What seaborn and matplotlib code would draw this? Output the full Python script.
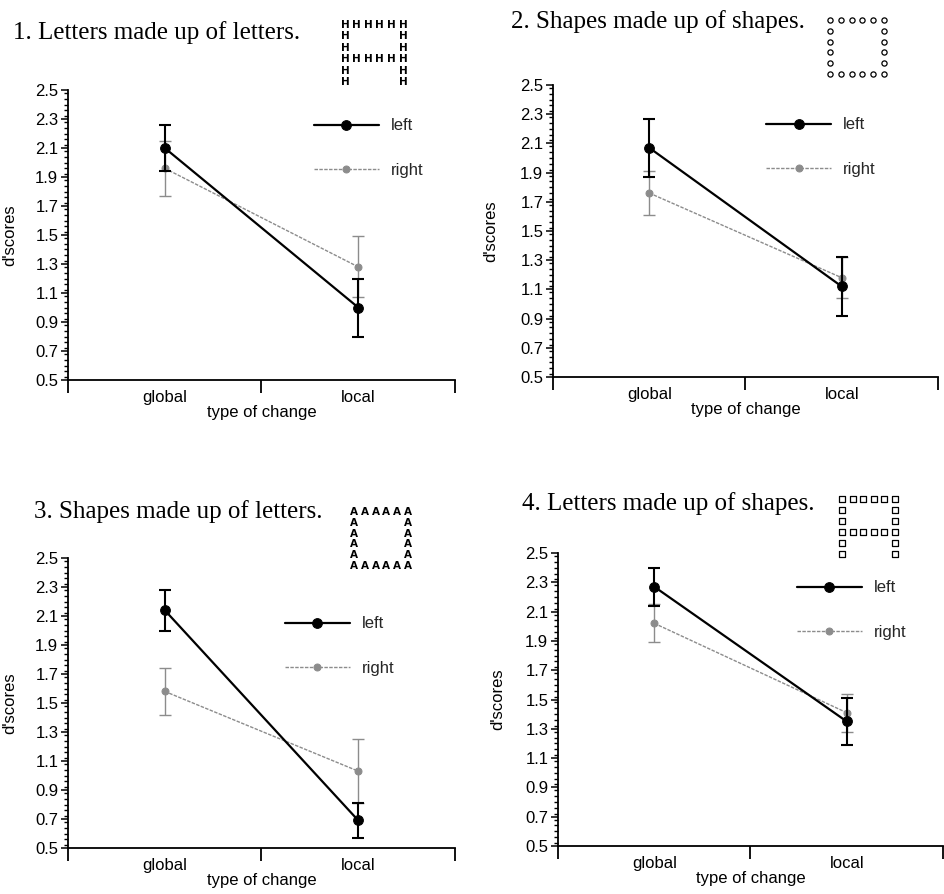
import matplotlib
matplotlib.use("Agg")
import matplotlib.pyplot as plt
import seaborn as sns
import numpy as np
from matplotlib.ticker import MultipleLocator, FixedLocator, NullFormatter

sns.set_theme(style="white")
plt.rcParams['font.family'] = ['Liberation Sans', 'DejaVu Sans']

W, H = 945, 894

# ---------------- data ----------------
categories = ["global", "local"]
series_names = ["left", "right"]
titles = ["1. Letters made up of letters.",
          "2. Shapes made up of shapes.",
          "3. Shapes made up of letters.",
          "4. Letters made up of shapes."]

p1_left = [2.10, 1.00]
p1_left_err = [0.16, 0.20]
p1_right = [1.96, 1.28]
p1_right_err = [0.19, 0.21]

p2_left = [2.07, 1.12]
p2_left_err = [0.20, 0.20]
p2_right = [1.76, 1.18]
p2_right_err = [0.15, 0.14]

p3_left = [2.14, 0.69]
p3_left_err = [0.14, 0.12]
p3_right = [1.58, 1.03]
p3_right_err = [0.16, 0.22]

p4_left = [2.27, 1.35]
p4_left_err = [0.13, 0.16]
p4_right = [2.02, 1.41]
p4_right_err = [0.13, 0.13]

y_ticks = [0.5, 0.7, 0.9, 1.1, 1.3, 1.5, 1.7, 1.9, 2.1, 2.3, 2.5]
y_label = "d'scores"
x_label = "type of change"

panels = [
    (p1_left, p1_left_err, p1_right, p1_right_err),
    (p2_left, p2_left_err, p2_right, p2_right_err),
    (p3_left, p3_left_err, p3_right, p3_right_err),
    (p4_left, p4_left_err, p4_right, p4_right_err),
]

# ---------------- layout (pixels) ----------------
# axes: left, right, top, bottom
axes_px = [(68, 455, 90, 380), (553, 938, 85, 377),
           (68, 455, 558, 848), (558, 943, 553, 846)]
ylabel_dx = [-51, -55, -51, -53]
title_pos = [(13, 39), (511, 28), (34, 518), (522, 510)]
legend_pos = [(314, 148), (766, 147), (285, 646), (797, 610)]
icon_box = [(345, 403, 25, 82), (830, 884, 20, 74),
            (354, 408, 512, 566), (842, 895, 499, 554)]
icon_shape_A = ["######", "#....#", "#....#", "######", "#....#", "#....#"]
icon_shape_sq = ["######", "#....#", "#....#", "#....#", "#....#", "######"]
icon_specs = [("H", icon_shape_A), ("o", icon_shape_sq),
              ("A", icon_shape_sq), ("s", icon_shape_A)]

fig = plt.figure(figsize=(W / 100, H / 100), dpi=100)
fig.patch.set_facecolor("white")

left_color = "black"
right_color = "#8c8c8c"

for i, (lv, le, rv, re) in enumerate(panels):
    l, r, t, b = axes_px[i]
    ax = fig.add_axes([l / W, 1 - b / H, (r - l) / W, (b - t) / H])
    ax.set_facecolor("white")
    xs = np.arange(len(categories)) + 0.5

    sns.lineplot(x=xs, y=rv, ax=ax, color=right_color, lw=1.0,
                 linestyle=(0, (2.5, 1)), marker="o", markersize=5,
                 markeredgecolor=right_color, label=series_names[1],
                 legend=False, zorder=2)
    right_line = ax.lines[-1]
    ax.errorbar(xs, rv, yerr=re, fmt="none", ecolor=right_color,
                elinewidth=1.0, capsize=4.3, capthick=1.0, zorder=2)
    sns.lineplot(x=xs, y=lv, ax=ax, color=left_color, lw=1.6,
                 marker="o", markersize=7, markeredgecolor=left_color,
                 label=series_names[0], legend=False, zorder=3)
    left_line = ax.lines[-1]
    ax.errorbar(xs, lv, yerr=le, fmt="none", ecolor=left_color,
                elinewidth=1.5, capsize=4.3, capthick=1.5, zorder=3)

    ax.set_xlim(0, 2)
    ax.set_ylim(0.5, 2.5)
    for s in ["top", "right"]:
        ax.spines[s].set_visible(False)
    for s in ["left", "bottom"]:
        ax.spines[s].set_color("black")
        ax.spines[s].set_linewidth(1.3)

    ax.yaxis.set_major_locator(FixedLocator(y_ticks))
    ax.set_yticklabels([f"{v:.1f}" for v in y_ticks])
    ax.yaxis.set_minor_locator(MultipleLocator(0.04))
    ax.tick_params(axis="y", which="major", direction="out", length=5,
                   width=1.1, color="black", pad=2, labelsize=12,
                   labelcolor="black", left=True)
    ax.tick_params(axis="y", which="minor", direction="out", length=3,
                   width=1.0, color="black", left=True)

    ax.xaxis.set_major_locator(FixedLocator([0, 1, 2]))
    ax.xaxis.set_major_formatter(NullFormatter())
    ax.xaxis.set_minor_locator(FixedLocator(list(xs)))
    ax.set_xticklabels(categories, minor=True)
    ax.tick_params(axis="x", which="major", direction="out", length=9,
                   width=1.3, color="black", bottom=True)
    ax.tick_params(axis="x", which="minor", length=0, pad=7,
                   labelsize=12, labelcolor="black", bottom=True)

    ax.set_ylabel(y_label, fontsize=12, color="black")
    ax.yaxis.set_label_coords(ylabel_dx[i] / (r - l), 0.5)
    ax.set_xlabel(x_label, fontsize=12, color="black")
    ax.xaxis.set_label_coords(0.5, -25 / (b - t))

    lx, ly = legend_pos[i]
    ax.legend([left_line, right_line], series_names, loc="center left",
              bbox_to_anchor=(lx / W, 1 - ly / H),
              bbox_transform=fig.transFigure, frameon=False,
              borderpad=0, borderaxespad=0, handlelength=3.9,
              handletextpad=0.7, labelspacing=1.75, fontsize=12)

    tx, ty = title_pos[i]
    fig.text(tx / W, 1 - ty / H, titles[i], family=["Liberation Serif"],
             fontsize=18, va="baseline", ha="left", color="black")

    # icon: global figure made of local elements
    x0, x1, y0, y1 = icon_box[i]
    iax = fig.add_axes([x0 / W, 1 - y1 / H, (x1 - x0) / W, (y1 - y0) / H])
    iax.set_xlim(0, 5)
    iax.set_ylim(5, 0)
    iax.axis("off")
    elem, shape = icon_specs[i]
    pts = [(c, rr) for rr, row in enumerate(shape)
           for c, ch in enumerate(row) if ch == "#"]
    px = [p[0] for p in pts]
    py = [p[1] for p in pts]
    if elem in ("o", "s"):
        iax.scatter(px, py, marker=elem, s=14, facecolors="white",
                    edgecolors="black", linewidths=0.9, clip_on=False)
    else:
        for a, bb in pts:
            iax.text(a, bb, elem, fontsize=7.5, fontweight="bold",
                     ha="center", va="center", color="black",
                     family=["DejaVu Sans"], clip_on=False)

fig.savefig("out.png", dpi=100, facecolor="white")
